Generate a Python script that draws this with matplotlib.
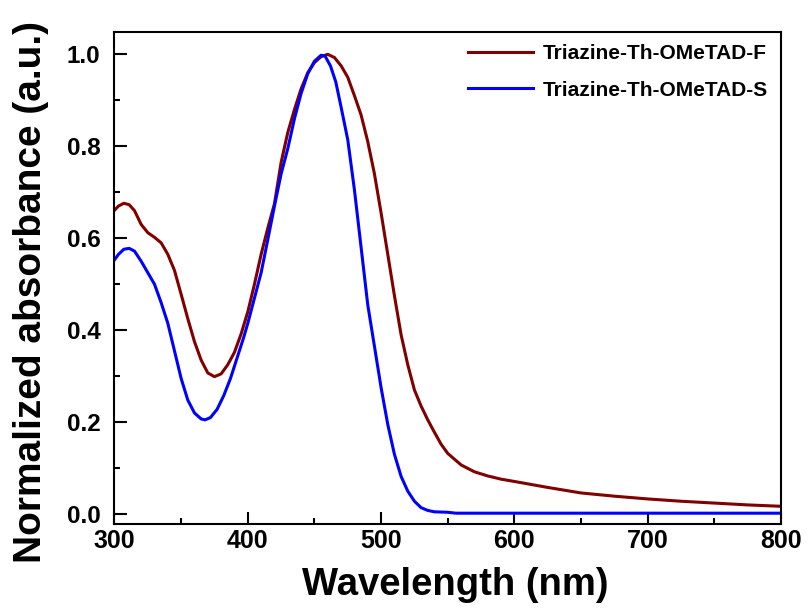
import matplotlib
matplotlib.use("Agg")
import matplotlib.pyplot as plt
from matplotlib.ticker import MultipleLocator

# Normalized UV-vis absorption spectra
wl_f = [300, 303, 307, 311, 315, 320, 325, 330, 335, 340, 345, 350, 355, 360,
        365, 370, 375, 380, 385, 390, 395, 400, 405, 410, 415, 420, 425, 430,
        435, 440, 445, 450, 455, 460, 465, 470, 475, 480, 485, 490, 495, 500,
        505, 510, 515, 520, 525, 530, 535, 540, 545, 550, 560, 570, 580, 590,
        600, 625, 650, 675, 700, 725, 750, 775, 800]
abs_f = [0.661, 0.670, 0.676, 0.673, 0.660, 0.630, 0.612, 0.602, 0.590, 0.565,
         0.530, 0.478, 0.425, 0.375, 0.335, 0.307, 0.299, 0.305, 0.325, 0.352,
         0.392, 0.440, 0.500, 0.565, 0.622, 0.675, 0.765, 0.830, 0.880, 0.925,
         0.960, 0.982, 0.995, 1.000, 0.993, 0.975, 0.950, 0.910, 0.868, 0.810,
         0.740, 0.655, 0.565, 0.475, 0.390, 0.325, 0.270, 0.235, 0.205, 0.178,
         0.152, 0.132, 0.107, 0.092, 0.083, 0.076, 0.071, 0.058, 0.046, 0.039,
         0.033, 0.028, 0.024, 0.020, 0.017]

wl_s = [300, 303, 307, 311, 315, 320, 325, 330, 335, 340, 345, 350, 355, 360,
        365, 368, 372, 377, 382, 387, 392, 397, 400, 405, 410, 415, 420, 425,
        430, 435, 440, 445, 450, 455, 458, 462, 466, 470, 475, 480, 485, 490,
        495, 500, 505, 510, 515, 520, 525, 530, 535, 540, 550, 556, 600, 700,
        800]
abs_s = [0.553, 0.565, 0.576, 0.578, 0.572, 0.550, 0.525, 0.500, 0.460, 0.415,
         0.355, 0.295, 0.248, 0.220, 0.207, 0.205, 0.210, 0.228, 0.258, 0.295,
         0.340, 0.385, 0.415, 0.470, 0.525, 0.597, 0.670, 0.740, 0.795, 0.860,
         0.915, 0.958, 0.985, 0.998, 0.996, 0.975, 0.940, 0.885, 0.814, 0.705,
         0.580, 0.455, 0.365, 0.275, 0.195, 0.130, 0.082, 0.050, 0.028, 0.014,
         0.008, 0.005, 0.004, 0.002, 0.002, 0.002, 0.002]

labels = ["Triazine-Th-OMeTAD-F", "Triazine-Th-OMeTAD-S"]
colors = ["#800000", "#0000FF"]

plt.rcParams["font.family"] = ["Liberation Sans", "DejaVu Sans"]
plt.rcParams["font.weight"] = "bold"

fig = plt.figure(figsize=(8.08, 6.12), dpi=100)
ax = fig.add_axes([0.1417, 0.1438, 0.8249, 0.8039])

ax.plot(wl_f, abs_f, color=colors[0], lw=2.2, label=labels[0])
ax.plot(wl_s, abs_s, color=colors[1], lw=2.2, label=labels[1])

ax.set_xlim(300, 800)
ax.set_ylim(-0.0215, 1.0485)
ax.xaxis.set_major_locator(MultipleLocator(100))
ax.xaxis.set_minor_locator(MultipleLocator(50))
ax.yaxis.set_major_locator(MultipleLocator(0.2))
ax.yaxis.set_minor_locator(MultipleLocator(0.1))
ax.yaxis.set_major_formatter(plt.FuncFormatter(lambda v, p: f"{v:.1f}"))

ax.tick_params(which="both", direction="in", top=False, right=False, width=1.5)
ax.tick_params(which="major", length=9)
ax.tick_params(which="minor", length=4.5)
ax.tick_params(axis="y", which="major", pad=10, labelsize=17.5)
ax.tick_params(axis="x", which="major", pad=3.5, labelsize=18)
for lab in ax.get_xticklabels() + ax.get_yticklabels():
    lab.set_fontweight("bold")
for sp in ax.spines.values():
    sp.set_linewidth(1.5)

ax.set_xlabel("Wavelength (nm)", fontsize=27.5, fontweight="bold")
ax.set_ylabel("Normalized absorbance (a.u.)", fontsize=28, fontweight="bold")
ax.xaxis.set_label_coords(0.511, -0.0875)
ax.yaxis.set_label_coords(-0.098, 0.4715)

ax.legend(loc="upper left", bbox_to_anchor=(0.53, 0.975), frameon=False,
          handlelength=3.15, handletextpad=0.45, labelspacing=0.83,
          borderpad=0, borderaxespad=0, prop={"weight": "bold", "size": 15})

fig.savefig("out.png", dpi=100, facecolor="white")
